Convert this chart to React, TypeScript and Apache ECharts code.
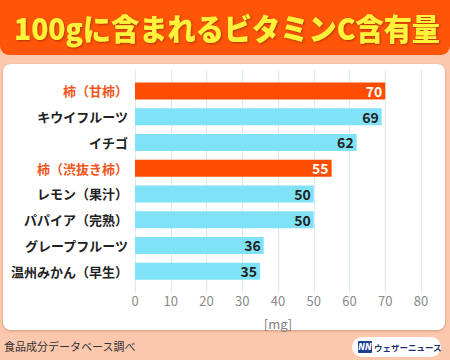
import React, { useEffect, useRef } from "react";
import * as echarts from "echarts";

const categories = [
  "柿（甘柿）",
  "キウイフルーツ",
  "イチゴ",
  "柿（渋抜き柿）",
  "レモン（果汁）",
  "パパイア（完熟）",
  "グレープフルーツ",
  "温州みかん（早生）",
];
const values = [70, 69, 62, 55, 50, 50, 36, 35];
const highlight = [true, false, false, true, false, false, false, false];
const xTicks = { min: 0, max: 80, interval: 10 };

const ORANGE = "#ff4d00";
const BLUE = "#80e2f6";
const GRIDLINE = "#d4edf4";
const FONT = "'Noto Sans CJK JP', 'Noto Sans', sans-serif";

export default function App() {
  const ref = useRef<HTMLDivElement>(null);
  useEffect(() => {
    document.body.style.margin = "0";
    if (!ref.current) return;
    const chart = echarts.init(ref.current, null, { renderer: "svg" });
    chart.setOption({
      animation: false,
      backgroundColor: "#fbc8ae",
      textStyle: { fontFamily: FONT },
      graphic: [
        {
          type: "rect",
          shape: { x: 0, y: -10, width: 450, height: 65, r: 9 },
          style: { fill: "#ff5508" },
          z: 0,
        },
        {
          type: "text",
          x: 227,
          y: 27,
          originX: 0,
          originY: 0,
          scaleX: 0.94,
          style: {
            text: "100gに含まれるビタミンC含有量",
            fontFamily: FONT,
            fontWeight: 900,
            fontSize: 30,
            fill: "#fff23a",
            align: "center",
            verticalAlign: "middle",
            textShadowColor: "rgba(120,30,0,0.6)",
            textShadowBlur: 2,
            textShadowOffsetX: 1,
            textShadowOffsetY: 1,
          },
          z: 1,
        },
        {
          type: "rect",
          shape: { x: 3, y: 64, width: 442, height: 266, r: 8 },
          style: {
            fill: "#ffffff",
            shadowColor: "rgba(120,60,30,0.35)",
            shadowBlur: 3,
            shadowOffsetY: 1,
          },
          z: -10,
        },
        {
          type: "text",
          x: 4,
          y: 346,
          style: {
            text: "食品成分データベース調べ",
            fontFamily: FONT,
            fontSize: 11,
            fill: "#333333",
            verticalAlign: "middle",
          },
        },
        {
          type: "rect",
          shape: { x: 352, y: 337, width: 89, height: 20, r: 10 },
          style: { fill: "#ffffff" },
        },
        {
          type: "rect",
          shape: { x: 358, y: 341, width: 14, height: 12, r: 1 },
          style: { fill: "#1f3f95" },
        },
        {
          type: "text",
          x: 365,
          y: 347,
          style: {
            text: "NN",
            fontFamily: "'DejaVu Sans', sans-serif",
            fontSize: 8,
            fontWeight: "bold",
            fontStyle: "italic",
            fill: "#ffffff",
            align: "center",
            verticalAlign: "middle",
          },
        },
        {
          type: "text",
          x: 374,
          y: 347,
          style: {
            text: "ウェザーニュース",
            fontFamily: FONT,
            fontSize: 8.5,
            fontWeight: "bold",
            fill: "#1f2f6e",
            verticalAlign: "middle",
          },
        },
      ],
      grid: { left: 135, top: 78, width: 286, height: 206, containLabel: false },
      xAxis: [
        {
          type: "value",
          position: "bottom",
          min: xTicks.min,
          max: xTicks.max,
          interval: xTicks.interval,
          axisLine: { show: false },
          axisTick: { show: true, length: 9, lineStyle: { color: GRIDLINE } },
          splitLine: { show: true, lineStyle: { color: GRIDLINE, width: 1 } },
          axisLabel: { color: "#8a8a8a", fontSize: 13, margin: 10, fontFamily: FONT },
          name: "[mg]",
          nameLocation: "middle",
          nameGap: 33,
          nameTextStyle: { color: "#808080", fontSize: 13, fontFamily: FONT },
        },
        {
          type: "value",
          position: "top",
          min: xTicks.min,
          max: xTicks.max,
          interval: xTicks.interval,
          axisLine: { show: false },
          axisTick: { show: true, length: 8, lineStyle: { color: GRIDLINE } },
          splitLine: { show: false },
          axisLabel: { show: false },
        },
      ],
      yAxis: {
        type: "category",
        data: categories,
        inverse: true,
        axisLine: { show: false },
        axisTick: { show: false },
        axisLabel: {
          fontSize: 13,
          fontWeight: "bold",
          margin: 7,
          fontFamily: FONT,
          color: (_v: string, i: number) => (highlight[i] ? "#f2551a" : "#222222"),
        },
      },
      series: [
        {
          type: "bar",
          xAxisIndex: 0,
          barWidth: 17,
          data: values.map((v, i) => ({
            value: v,
            itemStyle: { color: highlight[i] ? ORANGE : BLUE },
            label: { color: highlight[i] ? "#ffffff" : "#222222" },
          })),
          label: {
            show: true,
            position: "insideRight",
            fontSize: 14,
            fontWeight: "bold",
            fontFamily: FONT,
            distance: 3,
          },
        },
      ],
    });
    return () => chart.dispose();
  }, []);
  return <div ref={ref} style={{ width: 450, height: 360 }} />;
}
